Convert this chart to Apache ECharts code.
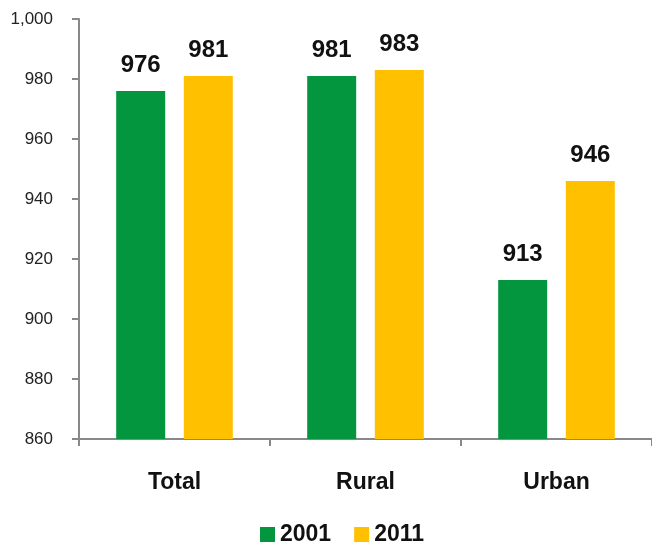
<!DOCTYPE html>
<html>
<head>
<meta charset="utf-8">
<script src="https://cdn.jsdelivr.net/npm/echarts@6/dist/echarts.min.js"></script>
<style>
  html, body { margin: 0; padding: 0; background: #fff; }
  #chart { width: 652px; height: 546px; }
</style>
</head>
<body>
<div id="chart"></div>
<script>
const categories = ['Total', 'Rural', 'Urban']
const values2001 = [976, 981, 913]
const values2011 = [981, 983, 946]
const seriesNames = ['2001', '2011']

const chart = echarts.init(document.getElementById('chart'))

const fontFamily = '"Liberation Sans", Arial, sans-serif'

const barLabel = {
  show: true,
  position: 'top',
  distance: 14,
  fontFamily: fontFamily,
  fontSize: 24,
  fontWeight: 'bold',
  color: '#111'
}

const option = {
  animation: false,
  grid: {
    left: 79,
    right: -1,
    top: 19,
    bottom: 107
  },
  legend: {
    data: seriesNames,
    left: 255,
    top: 518,
    itemWidth: 15,
    itemHeight: 15,
    itemGap: 23,
    icon: 'rect',
    textStyle: {
      fontFamily: fontFamily,
      fontSize: 23,
      fontWeight: 'bold',
      color: '#111'
    }
  },
  xAxis: {
    type: 'category',
    data: categories,
    axisLine: { lineStyle: { color: '#888', width: 2 } },
    axisTick: { show: true, length: 7, lineStyle: { color: '#888', width: 2 } },
    axisLabel: {
      margin: 32,
      fontFamily: fontFamily,
      fontSize: 23,
      fontWeight: 'bold',
      color: '#111'
    }
  },
  yAxis: {
    type: 'value',
    min: 860,
    max: 1000,
    interval: 20,
    axisLine: { show: true, lineStyle: { color: '#888', width: 2 } },
    axisTick: { show: true, length: 7, lineStyle: { color: '#888', width: 2 } },
    splitLine: { show: false },
    axisLabel: {
      margin: 26,
      fontFamily: fontFamily,
      fontSize: 17,
      color: '#222',
      formatter: v => v.toLocaleString('en-US')
    }
  },
  series: [
    {
      name: seriesNames[0],
      type: 'bar',
      data: values2001,
      barWidth: 49,
      barGap: '38%',
      itemStyle: { color: '#03963F' },
      label: barLabel
    },
    {
      name: seriesNames[1],
      type: 'bar',
      data: values2011,
      barWidth: 49,
      itemStyle: { color: '#FFC000' },
      label: barLabel
    }
  ]
}

chart.setOption(option)
</script>
</body>
</html>
